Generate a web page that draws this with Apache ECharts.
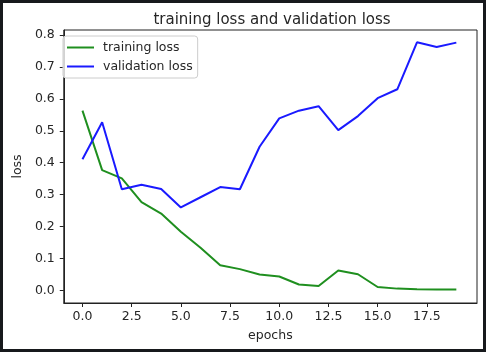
<!DOCTYPE html>
<html>
<head>
<meta charset="utf-8">
<script src="https://cdn.jsdelivr.net/npm/echarts@6/dist/echarts.min.js"></script>
<style>
html, body { margin: 0; padding: 0; background: #17191c; }
#chart { position: absolute; left: 3px; top: 3px; width: 480px; height: 346px; background: #fff; }
</style>
</head>
<body>
<div id="chart"></div>
<script>
// values
var epochs = [0,1,2,3,4,5,6,7,8,9,10,11,12,13,14,15,16,17,18,19];
var trainLoss = [0.563,0.377,0.351,0.277,0.241,0.184,0.134,0.079,0.067,0.050,0.044,0.019,0.014,0.063,0.051,0.011,0.006,0.004,0.003,0.003];
var valLoss = [0.411,0.527,0.317,0.331,0.318,0.260,0.292,0.324,0.317,0.450,0.539,0.563,0.577,0.502,0.546,0.602,0.630,0.777,0.762,0.776];
var xTicks = [0, 2.5, 5, 7.5, 10, 12.5, 15, 17.5];
var yTicks = [0, 0.1, 0.2, 0.3, 0.4, 0.5, 0.6, 0.7, 0.8];

var chart = echarts.init(document.getElementById('chart'));

function pairs(xs, ys) {
    var out = [];
    for (var i = 0; i < xs.length; i++) {
        out.push([xs[i], ys[i]]);
    }
    return out;
}

var font = 'DejaVu Sans';
var textColor = '#262626';

var option = {
    animation: false,
    title: {
        text: 'training loss and validation loss',
        left: 264,
        top: 5,
        textAlign: 'center',
        textStyle: { fontFamily: font, fontSize: 15, fontWeight: 'normal', color: textColor }
    },
    legend: {
        orient: 'vertical',
        left: 60,
        top: 33,
        data: ['training loss', 'validation loss'],
        icon: 'rect',
        itemWidth: 27,
        itemHeight: 2,
        itemGap: 6,
        padding: [5, 5, 5, 4],
        borderColor: '#cccccc',
        borderWidth: 1,
        borderRadius: 3,
        backgroundColor: 'rgba(255,255,255,0.8)',
        textStyle: { fontFamily: font, fontSize: 12.5, color: textColor, padding: [0, 0, 0, 4] }
    },
    grid: {
        left: 54,
        top: 27,
        width: 420,
        height: 273,
        show: true,
        borderColor: '#222',
        borderWidth: 1,
        backgroundColor: 'transparent'
    },
    xAxis: {
        type: 'value',
        min: -0.95,
        max: 20.05,
        name: 'epochs',
        nameLocation: 'middle',
        nameGap: 26,
        nameTextStyle: { fontFamily: font, fontSize: 12.5, color: textColor },
        axisLine: { show: true, onZero: false, lineStyle: { color: '#222', width: 1 } },
        axisTick: { show: true, length: 4, customValues: xTicks, lineStyle: { color: '#222' } },
        axisLabel: {
            customValues: xTicks,
            margin: 7,
            fontFamily: font, fontSize: 12.5, color: textColor,
            formatter: function (v) { return v.toFixed(1); }
        },
        splitLine: { show: false }
    },
    yAxis: {
        type: 'value',
        min: -0.039,
        max: 0.8155,
        name: 'loss',
        nameLocation: 'middle',
        nameGap: 36,
        nameTextStyle: { fontFamily: font, fontSize: 12.5, color: textColor },
        axisLine: { show: true, onZero: false, lineStyle: { color: '#222', width: 1 } },
        axisTick: { show: true, length: 4, customValues: yTicks, lineStyle: { color: '#222' } },
        axisLabel: {
            customValues: yTicks,
            margin: 9,
            fontFamily: font, fontSize: 12.5, color: textColor,
            formatter: function (v) { return v.toFixed(1); }
        },
        splitLine: { show: false }
    },
    series: [
        {
            name: 'training loss',
            type: 'line',
            data: pairs(epochs, trainLoss),
            symbol: 'none',
            color: '#1f8f1f',
            lineStyle: { width: 2, color: '#1f8f1f' }
        },
        {
            name: 'validation loss',
            type: 'line',
            data: pairs(epochs, valLoss),
            symbol: 'none',
            color: '#1a1aff',
            lineStyle: { width: 2, color: '#1a1aff' }
        }
    ]
};

chart.setOption(option);
</script>
</body>
</html>
